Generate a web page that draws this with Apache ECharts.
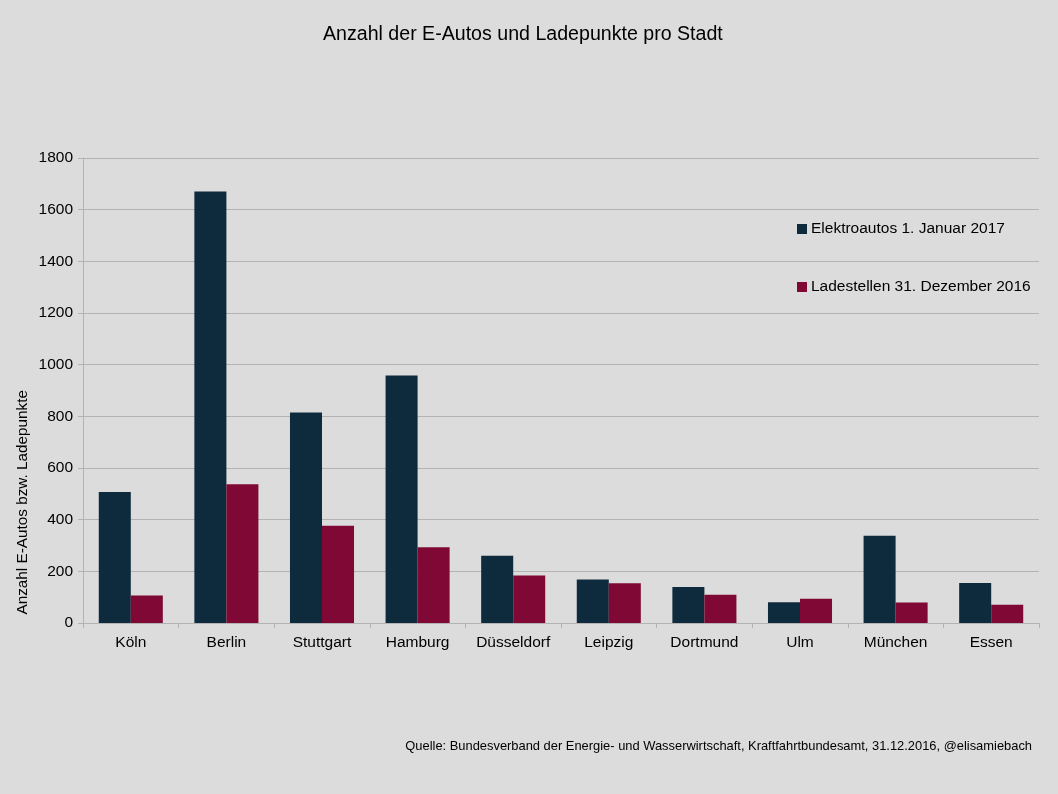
<!DOCTYPE html>
<html><head><meta charset="utf-8">
<script src="https://cdn.jsdelivr.net/npm/echarts@6/dist/echarts.min.js"></script>
<style>html,body{margin:0;padding:0;background:#dcdcdc}#c{width:1058px;height:794px}</style>
</head><body><div id="c"></div>
<script>
const categories = ['Köln','Berlin','Stuttgart','Hamburg','Düsseldorf','Leipzig','Dortmund','Ulm','München','Essen'];
const elektroautos = [507, 1670, 815, 958, 260, 168, 139, 80, 338, 155];
const ladestellen = [106, 537, 376, 293, 184, 154, 109, 94, 79, 71];
const seriesNames = ['Elektroautos 1. Januar 2017', 'Ladestellen 31. Dezember 2016'];
const titleText = 'Anzahl der E-Autos und Ladepunkte pro Stadt';
const yAxisTitle = 'Anzahl E-Autos bzw. Ladepunkte';
const sourceText = 'Quelle: Bundesverband der Energie- und Wasserwirtschaft, Kraftfahrtbundesamt, 31.12.2016, @elisamiebach';

const font = '"Liberation Sans", Arial, sans-serif';
const chart = echarts.init(document.getElementById('c'));
chart.setOption({
  backgroundColor: '#dcdcdc',
  animation: false,
  textStyle: {fontFamily: font},
  title: {text: titleText, left: 318, top: 20, textStyle: {fontSize: 19.6, fontWeight: 'normal', color: '#000', fontFamily: font}},
  legend: {
    orient: 'vertical', left: 792, top: 216, itemWidth: 10, itemHeight: 10, itemGap: 42,
    icon: 'rect',
    textStyle: {fontSize: 15.5, color: '#000', fontFamily: font, padding: [0,0,0,-1]},
    data: seriesNames
  },
  grid: {left: 83, right: 19, top: 158, bottom: 171},
  xAxis: {
    type: 'category', data: categories,
    axisLine: {lineStyle: {color: '#b3b3b3'}},
    axisTick: {show: true, length: 5, lineStyle: {color: '#b3b3b3'}},
    axisLabel: {interval: 0, fontSize: 15.5, color: '#000', margin: 12, fontFamily: font}
  },
  yAxis: {
    type: 'value', min: 0, max: 1800, interval: 200,
    axisLine: {show: true, lineStyle: {color: '#b3b3b3'}},
    axisTick: {show: true, length: 5, lineStyle: {color: '#b3b3b3'}},
    splitLine: {lineStyle: {color: '#b3b3b3'}},
    axisLabel: {fontSize: 15.5, color: '#000', margin: 10, fontFamily: font, formatter: v => String(v)}
  },
  graphic: [
    {type: 'text', left: 15, top: 390, rotation: Math.PI/2, style: {text: yAxisTitle, fontSize: 15.3, fill: '#000', fontFamily: font}},
    {type: 'text', right: 26, top: 740, style: {text: sourceText, fontSize: 12.9, fill: '#000', fontFamily: font}}
  ],
  series: [
    {name: seriesNames[0], type: 'bar', data: elektroautos, barGap: '0%', barCategoryGap: '33%', itemStyle: {color: '#0e2a3d'}},
    {name: seriesNames[1], type: 'bar', data: ladestellen, itemStyle: {color: '#800835'}}
  ]
});
</script></body></html>
